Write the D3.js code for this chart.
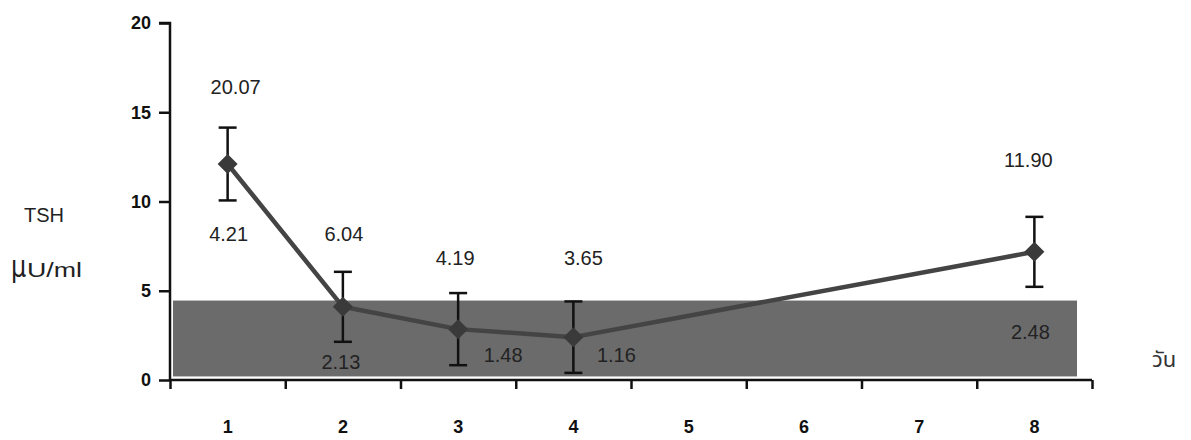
<!DOCTYPE html>
<html>
<head>
<meta charset="utf-8">
<script src="https://cdn.jsdelivr.net/npm/d3@7"></script>
<style>
  body { margin: 0; background: #fff; }
  svg { display: block; }
  text { font-family: "Liberation Sans", Arial, sans-serif; }
</style>
</head>
<body>
<svg id="chart" width="1191" height="440"></svg>
<script>
// ---- data ----
const categories = ["1", "2", "3", "4", "5", "6", "7", "8"];
const pointDays = ["1", "2", "3", "4", "8"];
const meanValues = [12.1, 4.1, 2.85, 2.4, 7.18];
const sdValues = [2.04, 1.96, 2.02, 2.0, 1.96];
const maxLabels = ["20.07", "6.04", "4.19", "3.65", "11.90"];
const minLabels = ["4.21", "2.13", "1.48", "1.16", "2.48"];
const yTicks = [0, 5, 10, 15, 20];
const normalRange = [0.2, 4.45];

// ---- layout ----
const svg = d3.select("#chart");
const pLeft = 170, pRight = 1092, pTop = 23, pBottom = 380;

const y = d3.scaleLinear().domain([0, 20]).range([pBottom, pTop]);
const x = d3.scaleBand().domain(categories).range([pLeft, pRight]).padding(0);
const xLin = d3.scaleLinear().domain([0, categories.length]).range([pLeft, pRight]);

// normal range band
svg.append("rect")
  .attr("x", xLin(0) + 3)
  .attr("y", y(normalRange[1]))
  .attr("width", xLin(7.87) - xLin(0) - 3)
  .attr("height", y(normalRange[0]) - y(normalRange[1]))
  .attr("fill", "#6b6b6b");

// y axis
const yAxis = d3.axisLeft(y).tickValues(yTicks).tickSize(11).tickPadding(8);
const gy = svg.append("g").attr("transform", `translate(${pLeft},0)`).call(yAxis);
gy.select(".domain").attr("stroke", "#111").attr("stroke-width", 2.5).attr("d", `M-11,${pTop}H0V${pBottom}`);
gy.selectAll(".tick line").attr("stroke", "#111").attr("stroke-width", 2.5);
gy.selectAll(".tick text").attr("font-size", 18).attr("font-weight", "bold").attr("fill", "#111")
  .style("font-family", "'Liberation Sans', Arial, sans-serif");

// x axis (ticks between categories)
const xAxisBoundary = d3.axisBottom(xLin).tickValues(d3.range(0, categories.length + 1)).tickSize(9).tickFormat("");
const gxb = svg.append("g").attr("transform", `translate(0,${pBottom})`).call(xAxisBoundary);
gxb.select(".domain").attr("stroke", "#111").attr("stroke-width", 2.5).attr("d", `M${pLeft},0H${pRight}`);
gxb.selectAll(".tick line").attr("stroke", "#111").attr("stroke-width", 2.5);

const xAxisLabels = d3.axisBottom(x).tickSize(0).tickPadding(40);
const gx = svg.append("g").attr("transform", `translate(0,${pBottom})`).call(xAxisLabels);
gx.select(".domain").remove();
gx.selectAll(".tick text").attr("font-size", 18).attr("font-weight", "bold").attr("fill", "#111")
  .style("font-family", "'Liberation Sans', Arial, sans-serif");

// line
const pts = pointDays.map((d, i) => ({ day: d, mean: meanValues[i], sd: sdValues[i] }));
const line = d3.line()
  .x(d => x(d.day) + x.bandwidth() / 2)
  .y(d => y(d.mean))
  .curve(d3.curveLinear);
svg.append("path").datum(pts)
  .attr("d", line)
  .attr("fill", "none")
  .attr("stroke", "#444")
  .attr("stroke-width", 4.5)
  .attr("stroke-linejoin", "round");

// error bars
const eb = svg.append("g").selectAll("g").data(pts).join("g")
  .attr("transform", d => `translate(${x(d.day) + x.bandwidth() / 2},0)`);
eb.append("line").attr("y1", d => y(d.mean + d.sd)).attr("y2", d => y(d.mean - d.sd))
  .attr("stroke", "#111").attr("stroke-width", 2.5);
eb.append("line").attr("x1", -9).attr("x2", 9).attr("y1", d => y(d.mean + d.sd)).attr("y2", d => y(d.mean + d.sd))
  .attr("stroke", "#111").attr("stroke-width", 2.5);
eb.append("line").attr("x1", -9).attr("x2", 9).attr("y1", d => y(d.mean - d.sd)).attr("y2", d => y(d.mean - d.sd))
  .attr("stroke", "#111").attr("stroke-width", 2.5);

// diamonds
svg.append("g").selectAll("path").data(pts).join("path")
  .attr("transform", d => `translate(${x(d.day) + x.bandwidth() / 2},${y(d.mean)})`)
  .attr("d", "M0,-10L10,0L0,10L-10,0Z")
  .attr("fill", "#3a3a3a");

// value labels (layout: dx from point centre, baseline y)
const maxLayout = [[8, 94], [1, 241], [-3, 265], [10, 265], [-6, 167]];
const minLayout = [[1, 241], [-2, 369], [45, 362], [43, 362], [-4, 339]];
const labelG = svg.append("g").attr("font-size", 20).attr("fill", "#222").attr("text-anchor", "middle");
pts.forEach((p, i) => {
  const cx = x(p.day) + x.bandwidth() / 2;
  labelG.append("text").attr("x", cx + maxLayout[i][0]).attr("y", maxLayout[i][1]).text(maxLabels[i]);
  labelG.append("text").attr("x", cx + minLayout[i][0]).attr("y", minLayout[i][1]).text(minLabels[i]);
});

// axis titles
svg.append("text").attr("x", 24).attr("y", 222).attr("font-size", 20).attr("fill", "#222").text("TSH");
svg.append("text").attr("x", 11).attr("y", 277).attr("font-size", 30).attr("fill", "#222")
  .style("font-family", "'DejaVu Sans', sans-serif").attr("transform", "translate(11,277) scale(0.8,1) translate(-11,-277)").text("μ");
svg.append("text").attr("x", 27).attr("y", 277).attr("font-size", 21).attr("fill", "#222")
  .attr("textLength", 55).attr("lengthAdjust", "spacingAndGlyphs").text("U/ml");
svg.append("text").attr("x", 1152).attr("y", 367).attr("font-size", 22).attr("fill", "#333")
  .style("font-family", "'Noto Sans Thai', 'Noto Sans', 'DejaVu Sans', sans-serif").text("วัน");
</script>
</body>
</html>
